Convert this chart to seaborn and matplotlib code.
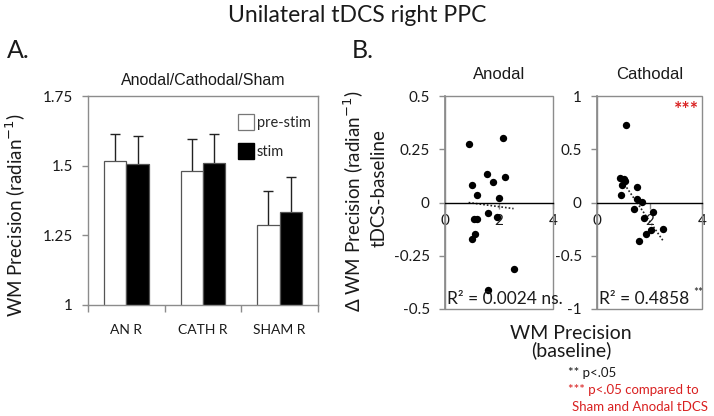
import numpy as np
import pandas as pd
import matplotlib
matplotlib.use("Agg")
import matplotlib.pyplot as plt
from matplotlib.patches import Rectangle, Patch
from matplotlib.ticker import FuncFormatter, FixedLocator
import seaborn as sns

# ---------------- data ----------------
conditions = ["AN R", "CATH R", "SHAM R"]
phases = ["pre-stim", "stim"]
pre_vals = [1.515, 1.48, 1.288]
stim_vals = [1.506, 1.508, 1.333]
pre_err = [0.099, 0.117, 0.122]
stim_err = [0.100, 0.104, 0.128]

anodal_x = [0.875, 2.16, 1.56, 1.78, 2.23, 1.01, 1.19, 2.01, 1.09, 1.19, 1.60, 1.91, 1.125, 1.01, 2.54, 1.60]
anodal_y = [0.275, 0.305, 0.134, 0.097, 0.122, 0.080, 0.036, 0.023, -0.077, -0.077, -0.050, -0.067, -0.148, -0.170, -0.310, -0.410]
anodal_fit = (-0.017, 0.0145)   # slope, intercept
anodal_r2 = "R² = 0.0024 ns."

cathodal_x = [1.12, 0.89, 1.02, 1.07, 0.94, 0.90, 1.54, 1.54, 1.70, 1.42, 1.79, 2.13, 2.04, 1.88, 2.51, 1.60]
cathodal_y = [0.728, 0.234, 0.222, 0.206, 0.169, 0.066, 0.144, 0.034, 0.003, -0.063, -0.150, -0.090, -0.256, -0.297, -0.250, -0.360]
cathodal_fit = (-0.36, 0.547)
cathodal_r2 = "R² = 0.4858"

bar_yticks = [1.0, 1.25, 1.5, 1.75]
anodal_yticks = [-0.5, -0.25, 0, 0.25, 0.5]
cathodal_yticks = [-1, -0.5, 0, 0.5, 1]
scatter_xticks = [0, 2, 4]

# ---------------- style ----------------
sns.set_theme(style="white")
plt.rcParams["font.family"] = ["Lato", "DejaVu Sans"]
TXT = "#1a1a1a"
SPINE = "#8c8c8c"
RED = "#d92121"

fig = plt.figure(figsize=(7.14, 4.16), dpi=100)
W, H = 714, 416
def ax_at(l, t, r, b):
    return fig.add_axes([l / W, 1 - b / H, (r - l) / W, (b - t) / H])

fmt = FuncFormatter(lambda v, p: f"{v:g}")

# ---------------- A: bar chart ----------------
axA = ax_at(88, 96, 318, 305)
df = pd.DataFrame({
    "cond": conditions * 2,
    "phase": [phases[0]] * 3 + [phases[1]] * 3,
    "val": pre_vals + stim_vals,
    "err": pre_err + stim_err,
})
sns.barplot(data=df, x="cond", y="val", hue="phase", order=conditions,
            hue_order=phases, palette=["white", "black"], width=0.585,
            edgecolor="#555555", linewidth=0.9, errorbar=None, legend=False,
            ax=axA, zorder=2)
patches = [p for p in axA.patches if isinstance(p, Rectangle)]
for p, (_, row) in zip(patches, df.iterrows()):
    cx = p.get_x() + p.get_width() / 2
    axA.errorbar(cx, row["val"], yerr=row["err"], fmt="none", ecolor="#222222",
                 elinewidth=1.0, capsize=3.5, capthick=1.0, zorder=1.5)
axA.set_ylim(1.0, 1.75)
axA.set_xlim(-0.5, 2.5)
axA.yaxis.set_major_locator(FixedLocator(bar_yticks))
axA.yaxis.set_major_formatter(fmt)
axA.set_xlabel("")
axA.set_ylabel("WM Precision (radian$^{-1}$)", fontsize=13.5, color=TXT)
axA.yaxis.set_label_coords(-0.26, 0.43)
for s in axA.spines.values():
    s.set_visible(True); s.set_color(SPINE); s.set_linewidth(1.0)
axA.tick_params(axis="y", which="major", direction="out", length=4, width=1,
                color=SPINE, labelsize=11, labelcolor=TXT, left=True, pad=7)
axA.tick_params(axis="x", which="major", length=0, labelsize=10, labelcolor=TXT, pad=14)
axA.set_xticks([-0.5, 0.5, 1.5, 2.5], minor=True)
axA.tick_params(axis="x", which="minor", direction="out", length=5, width=1,
                color=SPINE, bottom=True)
axA.set_title("Anodal/Cathodal/Sham", fontsize=11.5, family="Liberation Sans",
              color=TXT, pad=8)
handles = [Patch(facecolor="white", edgecolor="#777777", linewidth=0.9),
           Patch(facecolor="black", edgecolor="black")]
axA.legend(handles, phases, loc="upper right", bbox_to_anchor=(1.0, 0.95),
           frameon=False, fontsize=10.5, handlelength=1.1, handleheight=1.3,
           handletextpad=0.2, labelspacing=0.9, borderaxespad=0.1)

# ---------------- B: scatter panels ----------------
def scatter_panel(ax, xs, ys, fit, yticks, title):
    sns.scatterplot(x=xs, y=ys, color="black", s=28, edgecolor="black",
                    linewidth=0, ax=ax, zorder=3)
    x0, x1 = min(xs), max(xs)
    fx = np.array([x0, x1])
    ax.plot(fx, fit[1] + fit[0] * fx, ls=(0, (1, 1.2)), color="#222222", lw=1.2, zorder=2)
    ax.set_xlim(0, 4)
    ax.set_ylim(yticks[0], yticks[-1])
    ax.xaxis.set_major_locator(FixedLocator(scatter_xticks))
    ax.yaxis.set_major_locator(FixedLocator(yticks))
    ax.xaxis.set_major_formatter(fmt)
    ax.yaxis.set_major_formatter(fmt)
    for k in ["top", "right"]:
        ax.spines[k].set_visible(False)
    ax.spines["left"].set_color(SPINE)
    ax.spines["bottom"].set_position(("data", 0))
    ax.spines["bottom"].set_color("black")
    ax.spines["bottom"].set_linewidth(1.0)
    ax.add_patch(Rectangle((0, 0), 1, 1, transform=ax.transAxes, fill=False,
                           ec=SPINE, lw=1.0, clip_on=False, zorder=1))
    ax.tick_params(axis="y", direction="out", length=4, width=1, color=SPINE,
                   labelsize=11, labelcolor=TXT, left=True, pad=7)
    ax.tick_params(axis="x", direction="out", length=4, width=1, color=SPINE,
                   labelsize=11, labelcolor=TXT, bottom=True, pad=4)
    ax.set_title(title, fontsize=12, family="Liberation Sans", color=TXT, pad=12)

axAn = ax_at(445, 96, 553, 309)
scatter_panel(axAn, anodal_x, anodal_y, anodal_fit, anodal_yticks, "Anodal")
axAn.text(0.015, 0.008, anodal_r2, transform=axAn.transAxes, fontsize=12.5,
          color=TXT, ha="left", va="bottom", zorder=4)

axCa = ax_at(597, 96, 702, 309)
scatter_panel(axCa, cathodal_x, cathodal_y, cathodal_fit, cathodal_yticks, "Cathodal")
t = axCa.text(0.02, 0.008, cathodal_r2, transform=axCa.transAxes, fontsize=12.5,
              color=TXT, ha="left", va="bottom", zorder=4)
axCa.annotate("**", xy=(1, 0.55), xycoords=t, xytext=(2.5, 0), textcoords="offset points",
              fontsize=8.5, color=TXT, ha="left", va="bottom")
axCa.text(0.97, 0.975, "***", transform=axCa.transAxes, fontsize=14, color=RED,
          ha="right", va="top", fontweight="bold")

# ---------------- figure texts ----------------
fig.text(357 / W, 1 - 15 / H, "Unilateral tDCS right PPC", fontsize=16.5, ha="center",
         va="center", color=TXT)
fig.text(7 / W, 1 - 51 / H, "A.", fontsize=18, ha="left", va="center", color=TXT)
fig.text(352 / W, 1 - 51 / H, "B.", fontsize=18, ha="left", va="center", color=TXT)
fig.text(354 / W, 1 - 201 / H, "Δ WM Precision (radian$^{-1}$)", fontsize=13.5, rotation=90,
         ha="center", va="center", color=TXT)
fig.text(379 / W, 1 - 188 / H, "tDCS-baseline", fontsize=13.5, rotation=90,
         ha="center", va="center", color=TXT)
fig.text(571 / W, 1 - 342 / H, "WM Precision\n(baseline)", fontsize=14, ha="center",
         va="center", color=TXT, linespacing=1.0)
fig.text(568 / W, 1 - 373 / H, "** p<.05", fontsize=9.5, ha="left", va="center", color=TXT)
fig.text(568 / W, 1 - 390 / H, "*** p<.05 compared to", fontsize=9.5, ha="left",
         va="center", color=RED)
fig.text(640 / W, 1 - 407 / H, "Sham and Anodal tDCS", fontsize=9.5, ha="center",
         va="center", color=RED)

fig.savefig("out.png", dpi=100)
